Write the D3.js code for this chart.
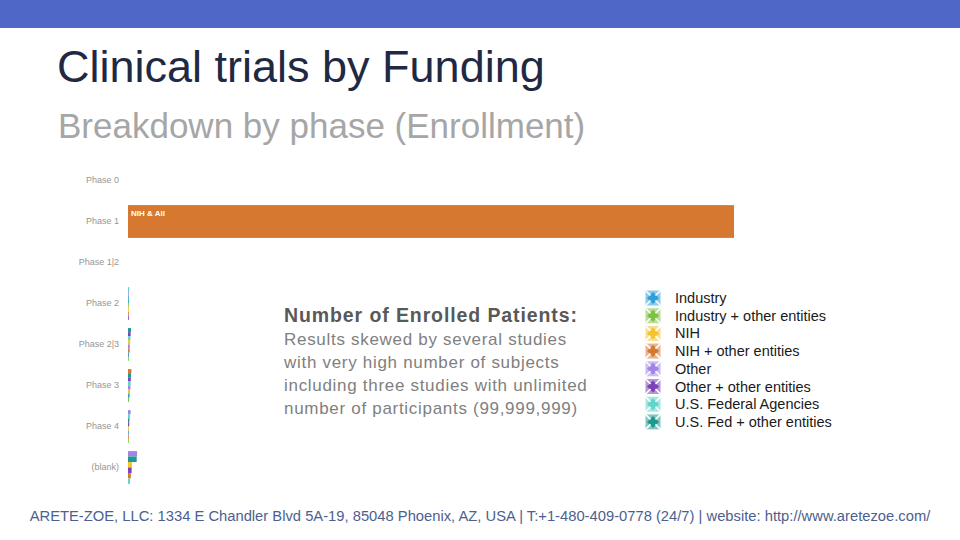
<!DOCTYPE html>
<html>
<head>
<meta charset="utf-8">
<title>Clinical trials by Funding</title>
<script src="https://cdn.jsdelivr.net/npm/d3@7"></script>
<style>
  body { margin: 0; background: #fff; }
  svg { display: block; font-family: "Liberation Sans", Arial, sans-serif; }
</style>
</head>
<body>
<script>
// phases on the y axis
var phases = ["Phase 0", "Phase 1", "Phase 1|2", "Phase 2", "Phase 2|3", "Phase 3", "Phase 4", "(blank)"];

// funding categories (legend order)
var categories = ["Industry", "Industry + other entities", "NIH", "NIH + other entities",
                  "Other", "Other + other entities", "U.S. Federal Agencies", "U.S. Fed + other entities"];
var colors = ["#2e9fd8", "#7dc242", "#f5c32c", "#d6782f", "#a185e6", "#7a44b5", "#62d4c9", "#1c9a8e"];

// enrolled patients (millions) per category, one value per phase
var industry     = [0, 0,   0, 0.3, 0.5, 0.8, 0.4, 0];
var industryPlus = [0, 0,   0, 0.2, 0.4, 0.5, 0.3, 0];
var nih          = [0, 0,   0, 0.2, 1.1, 1.0, 0.5, 2.0];
var nihPlus      = [0, 300, 0, 0.2, 0.8, 1.7, 0.4, 1.4];
var other        = [0, 0,   0, 0.4, 0.9, 1.2, 1.3, 4.5];
var otherPlus    = [0, 0,   0, 0.2, 1.3, 1.4, 0.6, 1.8];
var usFed        = [0, 0,   0, 0.6, 1.2, 1.3, 1.0, 1.0];
var usFedPlus    = [0, 0,   0, 0.3, 1.5, 1.5, 0.7, 4.3];

var barLabels = {"Phase 1": "NIH & All"};

var noteTitle = "Number of Enrolled Patients:";
var noteLines = ["Results skewed by several studies",
                 "with very high number of subjects",
                 "including three studies with unlimited",
                 "number of participants (99,999,999)"];

var footer = "ARETE-ZOE, LLC: 1334 E Chandler Blvd 5A-19, 85048 Phoenix, AZ, USA | T:+1-480-409-0778 (24/7) | website: http://www.aretezoe.com/";

var series = [industry, industryPlus, nih, nihPlus, other, otherPlus, usFed, usFedPlus];

function makeChart() {
    var width = 960, height = 540;

    var svg = d3.select("body").append("svg")
        .attr("width", width)
        .attr("height", height);

    // header band
    svg.append("rect")
        .attr("x", 0).attr("y", 0)
        .attr("width", width).attr("height", 28)
        .attr("fill", "#4f68c8");

    svg.append("text")
        .attr("x", 57).attr("y", 82)
        .attr("font-size", 45)
        .attr("fill", "#1f2944")
        .text("Clinical trials by Funding");

    svg.append("text")
        .attr("x", 58).attr("y", 138)
        .attr("font-size", 35)
        .attr("fill", "#a6a6a6")
        .text("Breakdown by phase (Enrollment)");

    // chart
    var yScale = d3.scaleBand()
        .domain(phases)
        .range([160, 488])
        .paddingInner(0.2)
        .paddingOuter(0.1);

    var xScale = d3.scaleLinear()
        .domain([0, 300])
        .range([128, 734]);

    var rows = phases.map(function (p, i) {
        var items = categories.map(function (c, j) {
            return {phase: p, category: c, color: colors[j], value: series[j][i]};
        }).filter(function (d) { return d.value > 0; });
        items.sort(function (a, b) { return b.value - a.value; });
        return {phase: p, items: items};
    });

    var canvas = svg.append("g").attr("id", "bars");

    var groups = canvas.selectAll("g.row")
        .data(rows)
        .enter()
        .append("g")
            .attr("class", "row")
            .attr("transform", function (d) { return "translate(0," + yScale(d.phase) + ")"; });

    groups.each(function (row) {
        var inner = d3.scaleBand()
            .domain(row.items.map(function (d) { return d.category; }))
            .range([0, yScale.bandwidth()]);
        d3.select(this).selectAll("rect")
            .data(row.items)
            .enter()
            .append("rect")
                .attr("x", xScale(0))
                .attr("y", function (d) { return inner(d.category); })
                .attr("width", function (d) { return Math.max(0.8, xScale(d.value) - xScale(0)); })
                .attr("height", inner.bandwidth())
                .attr("fill", function (d) { return d.color; });
    });

    groups.filter(function (d) { return barLabels[d.phase]; })
        .append("text")
            .attr("x", xScale(0) + 3)
            .attr("y", 11)
            .attr("font-size", 8)
            .attr("font-weight", "bold")
            .attr("fill", "#fff")
            .text(function (d) { return barLabels[d.phase]; });

    var yAxis = d3.axisLeft(yScale).tickSize(0).tickPadding(9);
    var axisG = svg.append("g")
        .attr("transform", "translate(128,0)")
        .call(yAxis);
    axisG.select(".domain").remove();
    axisG.selectAll("text")
        .attr("font-family", "Liberation Sans, Arial, sans-serif")
        .attr("font-size", 9)
        .attr("fill", "#969696");

    // note
    svg.append("text")
        .attr("x", 284).attr("y", 322)
        .attr("font-size", 19.5)
        .attr("font-weight", "bold")
        .attr("letter-spacing", 0.9)
        .attr("fill", "#595959")
        .text(noteTitle);

    svg.append("g").selectAll("text")
        .data(noteLines)
        .enter()
        .append("text")
            .attr("x", 284)
            .attr("y", function (d, i) { return 345 + i * 23; })
            .attr("font-size", 17)
            .attr("letter-spacing", 0.7)
            .attr("fill", "#808080")
            .text(function (d) { return d; });

    // legend
    var legend = svg.append("g").attr("transform", "translate(653,298)");
    var items = legend.selectAll("g")
        .data(categories)
        .enter()
        .append("g")
            .attr("transform", function (d, i) { return "translate(0," + (i * 17.7) + ")"; });

    items.append("rect")
        .attr("x", -7.5).attr("y", -7.5)
        .attr("width", 15).attr("height", 15)
        .attr("fill", function (d, i) { return colors[i]; })
        .attr("opacity", 0.55);
    items.append("path")
        .attr("d", "M0,-6L6,0L0,6L-6,0Z")
        .attr("fill", function (d, i) { return colors[i]; });
    items.append("path")
        .attr("d", "M-7.5,-7.5L-2.5,-2.5M7.5,-7.5L2.5,-2.5M-7.5,7.5L-2.5,2.5M7.5,7.5L2.5,2.5")
        .attr("stroke", "#fff")
        .attr("stroke-width", 1.6);

    items.append("text")
        .attr("x", 22)
        .attr("y", 5)
        .attr("font-size", 14.5)
        .attr("fill", "#1a1a1a")
        .text(function (d) { return d; });

    // footer
    svg.append("text")
        .attr("x", 480).attr("y", 521)
        .attr("text-anchor", "middle")
        .attr("font-size", 14.75)
        .attr("fill", "#4d5f8f")
        .text(footer);
}

makeChart();
</script>
</body>
</html>
